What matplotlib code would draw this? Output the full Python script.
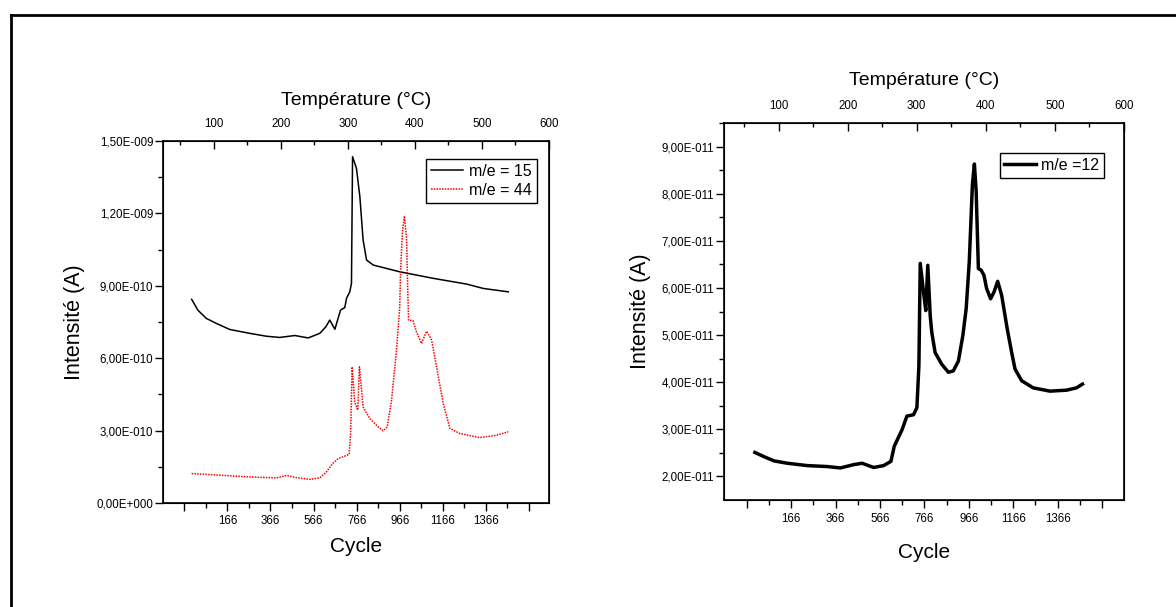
import numpy as np
import matplotlib
matplotlib.use("Agg")
import matplotlib.pyplot as plt
from matplotlib import font_manager
from matplotlib.lines import Line2D
from matplotlib.ticker import FixedLocator, FuncFormatter

# --- data ---
# left panel: m/e = 15 (black) and m/e = 44 (red), intensity in A
cyc_15 = [0, 29, 68, 115, 177, 270, 347, 409, 479, 541, 595, 623, 641, 665, 691,
          711, 719, 734, 742, 747, 765, 781, 796, 812, 843, 966, 1121, 1277, 1354, 1470]
int_15 = [8.44e-10, 7.99e-10, 7.65e-10, 7.44e-10, 7.19e-10, 7.03e-10, 6.91e-10,
          6.86e-10, 6.94e-10, 6.84e-10, 7.03e-10, 7.30e-10, 7.58e-10, 7.20e-10,
          7.99e-10, 8.10e-10, 8.48e-10, 8.75e-10, 9.10e-10, 1.435e-09, 1.387e-09,
          1.269e-09, 1.090e-09, 1.007e-09, 9.86e-10, 9.58e-10, 9.31e-10, 9.07e-10,
          8.89e-10, 8.75e-10]

cyc_44 = [0, 115, 270, 394, 440, 487, 548, 595, 626, 654, 680, 731, 738, 745, 757,
          771, 779, 796, 827, 866, 889, 908, 928, 951, 966, 970, 979, 988, 998,
          1002, 1007, 1010, 1028, 1044, 1067, 1091, 1114, 1137, 1168, 1199, 1245,
          1338, 1416, 1470]
int_44 = [1.22e-10, 1.16e-10, 1.08e-10, 1.04e-10, 1.14e-10, 1.05e-10, 0.98e-10,
          1.04e-10, 1.29e-10, 1.63e-10, 1.84e-10, 2.01e-10, 2.88e-10, 5.64e-10,
          4.19e-10, 3.85e-10, 5.64e-10, 3.98e-10, 3.50e-10, 3.15e-10, 2.99e-10,
          3.15e-10, 4.26e-10, 6.33e-10, 8.13e-10, 9.65e-10, 1.131e-09, 1.189e-09,
          1.090e-09, 9.24e-10, 7.58e-10, 7.58e-10, 7.55e-10, 7.09e-10, 6.61e-10,
          7.12e-10, 6.75e-10, 5.64e-10, 4.12e-10, 3.09e-10, 2.88e-10, 2.71e-10,
          2.81e-10, 2.95e-10]

# right panel: m/e = 12
cyc_12 = [2, 43, 88, 148, 238, 328, 387, 447, 485, 537, 582, 615, 630, 665, 687,
          717, 732, 741, 747, 762, 772, 781, 792, 799, 814, 844, 874, 896, 919,
          939, 954, 968, 982, 991, 999, 1009, 1021, 1034, 1046, 1064, 1079, 1096,
          1114, 1139, 1159, 1174, 1204, 1256, 1331, 1406, 1451, 1478]
int_12 = [2.51e-11, 2.42e-11, 2.33e-11, 2.28e-11, 2.23e-11, 2.21e-11, 2.18e-11,
          2.25e-11, 2.28e-11, 2.19e-11, 2.23e-11, 2.32e-11, 2.64e-11, 2.99e-11,
          3.28e-11, 3.31e-11, 3.46e-11, 4.35e-11, 6.52e-11, 5.91e-11, 5.52e-11,
          6.48e-11, 5.41e-11, 5.06e-11, 4.63e-11, 4.38e-11, 4.21e-11, 4.24e-11,
          4.45e-11, 4.99e-11, 5.56e-11, 6.56e-11, 8.19e-11, 8.63e-11, 8.05e-11,
          6.41e-11, 6.38e-11, 6.27e-11, 5.99e-11, 5.77e-11, 5.91e-11, 6.14e-11,
          5.84e-11, 5.13e-11, 4.63e-11, 4.28e-11, 4.03e-11, 3.88e-11, 3.81e-11,
          3.83e-11, 3.88e-11, 3.96e-11]

cycle_ticks = [-34, 166, 366, 566, 766, 966, 1166, 1366, 1566]
cycle_minor = [66, 266, 466, 666, 866, 1066, 1266, 1466]
temp_ticks = [100, 200, 300, 400, 500, 600]
temp_minor = [50, 150, 250, 350, 450, 550]
left_yticks = [0, 3e-10, 6e-10, 9e-10, 1.2e-9, 1.5e-9]
right_yticks = [2e-11, 3e-11, 4e-11, 5e-11, 6e-11, 7e-11, 8e-11, 9e-11]

# narrow font for ticks if there is one
try:
    font_manager.findfont(font_manager.FontProperties(family="Liberation Sans Narrow"),
                          fallback_to_default=False)
    tick_family, tick_size = "Liberation Sans Narrow", 9.5
except Exception:
    tick_family, tick_size = "Liberation Sans", 8.3

plt.rcParams["font.family"] = ["Liberation Sans", "DejaVu Sans"]


def origin_sci(v, pos=None):
    if v == 0:
        return "0,00E+000"
    exp = int(np.floor(np.log10(abs(v)) + 1e-9))
    man = v / 10 ** exp
    sign = "+" if exp >= 0 else "-"
    return f"{man:.2f}".replace(".", ",") + f"E{sign}{abs(exp):03d}"


def cycle_label(v, pos=None):
    if v < 100 or v > 1400:
        return ""
    return f"{int(round(v))}"


def setup(ax, xlim, ylim, yticks, yminor, tlim, xpad, tpad):
    ax.set_xlim(*xlim)
    ax.set_ylim(*ylim)
    ax.xaxis.set_major_locator(FixedLocator(cycle_ticks))
    ax.xaxis.set_minor_locator(FixedLocator(cycle_minor))
    ax.xaxis.set_major_formatter(FuncFormatter(cycle_label))
    ax.yaxis.set_major_locator(FixedLocator(yticks))
    ax.yaxis.set_minor_locator(FixedLocator(yminor))
    ax.yaxis.set_major_formatter(FuncFormatter(origin_sci))
    ax.tick_params(which="major", direction="out", length=6, width=1, pad=3)
    ax.tick_params(which="minor", direction="out", length=3.5, width=1)
    ax.tick_params(axis="y", which="major", pad=1)
    for lab in ax.get_xticklabels() + ax.get_yticklabels():
        lab.set_fontfamily(tick_family)
        lab.set_fontsize(tick_size)
    for sp in ax.spines.values():
        sp.set_linewidth(1.2)
    ax.set_xlabel("Cycle", fontsize=15, labelpad=xpad)
    ax.set_ylabel("Intensité (A)", fontsize=15.5, labelpad=8)

    top = ax.twiny()
    top.set_xlim(*tlim)
    top.xaxis.set_major_locator(FixedLocator(temp_ticks))
    top.xaxis.set_minor_locator(FixedLocator(temp_minor))
    top.tick_params(which="major", direction="in", length=6, width=1, pad=8)
    top.tick_params(which="minor", direction="in", length=3, width=1)
    for lab in top.get_xticklabels():
        lab.set_fontfamily(tick_family)
        lab.set_fontsize(tick_size)
    top.set_xlabel("Température (°C)", fontsize=14, labelpad=tpad)
    return top


fig = plt.figure(figsize=(11.76, 6.07), dpi=100)

ax1 = fig.add_axes([163 / 1176, 104 / 607, 386 / 1176, 362 / 607])
ax1.plot(cyc_15, int_15, color="black", lw=1.1, label="m/e = 15")
ax1.plot(cyc_44, int_44, color="red", lw=1.1, ls=(0, (1, 0.8)), label="m/e = 44")
setup(ax1, (-133, 1659), (0, 1.5e-9), left_yticks,
      [1.5e-10, 4.5e-10, 7.5e-10, 1.05e-9, 1.35e-9], (24, 600), 7, 9)
leg1 = ax1.legend(loc="upper right", bbox_to_anchor=(0.969, 0.950), borderaxespad=0,
                  fancybox=False, edgecolor="black", framealpha=1, fontsize=11.5,
                  handlelength=2.0, borderpad=0.3, labelspacing=0.25, handletextpad=0.4)
leg1.get_frame().set_linewidth(1)

ax2 = fig.add_axes([724 / 1176, 107 / 607, 400 / 1176, 377 / 607])
ax2.plot(cyc_12, int_12, color="black", lw=2.5, label="m/e =12")
setup(ax2, (-137, 1665), (1.5e-11, 9.5e-11), right_yticks,
      [2.5e-11, 3.5e-11, 4.5e-11, 5.5e-11, 6.5e-11, 7.5e-11, 8.5e-11, 9.5e-11],
      (21, 600), 13, 11)
leg2 = ax2.legend(loc="upper right", bbox_to_anchor=(0.95, 0.92), borderaxespad=0,
                  fancybox=False, edgecolor="black", framealpha=1, fontsize=11.5,
                  handlelength=2.0, borderpad=0.3, handletextpad=0.3)
leg2.get_frame().set_linewidth(1)

# outer frame (top and left edges visible)
fig.add_artist(Line2D([11 / 1176, 1.0], [1 - 15 / 607, 1 - 15 / 607],
                      transform=fig.transFigure, color="black", lw=2))
fig.add_artist(Line2D([11 / 1176, 11 / 1176], [0.0, 1 - 15 / 607],
                      transform=fig.transFigure, color="black", lw=2))

fig.savefig("out.png", dpi=100, facecolor="white")
